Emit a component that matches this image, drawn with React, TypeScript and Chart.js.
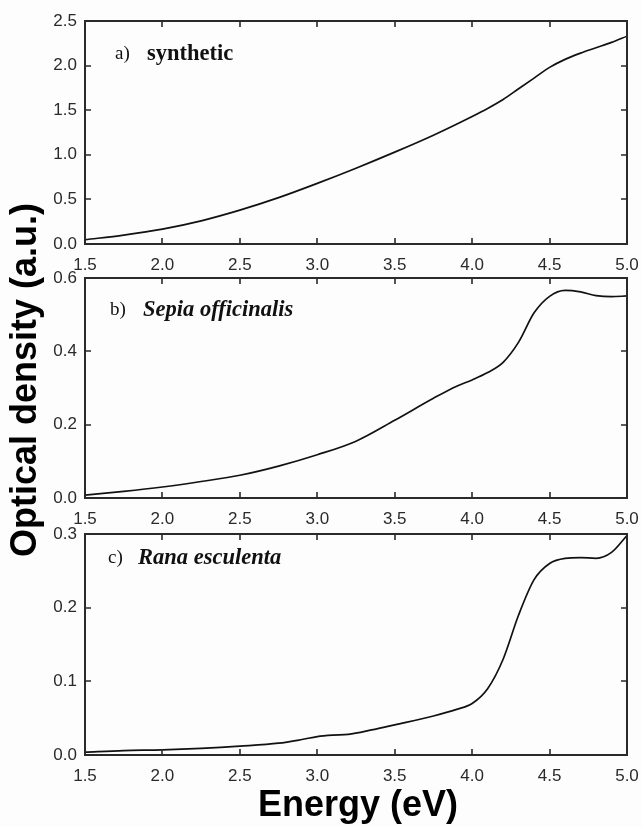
import React, { useEffect, useRef } from 'react';
import { Chart, registerables } from 'chart.js';

Chart.register(...registerables);

// ---------- data ----------
const energyTicks = [1.5, 2.0, 2.5, 3.0, 3.5, 4.0, 4.5, 5.0];
const energyTickLabels = ['1.5', '2.0', '2.5', '3.0', '3.5', '4.0', '4.5', '5.0'];

const energyA = [1.5, 1.75, 2.0, 2.25, 2.5, 2.75, 3.0, 3.25, 3.5, 3.75, 4.0, 4.1, 4.2, 4.3, 4.4, 4.5, 4.6, 4.7, 4.8, 4.9, 5.0];
const densityA = [0.048, 0.1, 0.167, 0.26, 0.38, 0.52, 0.68, 0.85, 1.03, 1.22, 1.43, 1.52, 1.62, 1.74, 1.86, 1.98, 2.07, 2.14, 2.2, 2.26, 2.33];
const yTicksA = [0, 0.5, 1.0, 1.5, 2.0, 2.5];
const yTickLabelsA = ['0.0', '0.5', '1.0', '1.5', '2.0', '2.5'];

const energyB = [1.5, 1.75, 2.0, 2.25, 2.5, 2.75, 3.0, 3.25, 3.5, 3.75, 3.9, 4.0, 4.1, 4.2, 4.3, 4.4, 4.5, 4.6, 4.7, 4.8, 4.9, 5.0];
const densityB = [0.008, 0.018, 0.03, 0.045, 0.062, 0.087, 0.118, 0.155, 0.212, 0.272, 0.305, 0.322, 0.342, 0.37, 0.425, 0.505, 0.55, 0.566, 0.562, 0.552, 0.549, 0.551];
const yTicksB = [0, 0.2, 0.4, 0.6];
const yTickLabelsB = ['0.0', '0.2', '0.4', '0.6'];

const energyC = [1.5, 1.75, 2.0, 2.25, 2.5, 2.75, 2.9, 3.0, 3.1, 3.2, 3.35, 3.5, 3.75, 3.9, 4.0, 4.1, 4.2, 4.3, 4.4, 4.5, 4.6, 4.7, 4.8, 4.9, 5.0];
const densityC = [0.004, 0.006, 0.007, 0.009, 0.012, 0.016, 0.021, 0.025, 0.027, 0.028, 0.034, 0.041, 0.053, 0.062, 0.07, 0.09, 0.13, 0.19, 0.238, 0.26, 0.267, 0.268, 0.267, 0.275, 0.298];
const yTicksC = [0, 0.1, 0.2, 0.3];
const yTickLabelsC = ['0.0', '0.1', '0.2', '0.3'];

const panelLetters = ['a)', 'b)', 'c)'];
const panelNames = ['synthetic', 'Sepia officinalis', 'Rana esculenta'];
const xTitle = 'Energy (eV)';
const yTitle = 'Optical density (a.u.)';

// ---------- layout ----------
const W = 642;
const H = 827;
const PLOT_LEFT = 85;
const PLOT_RIGHT = 627;
const XAXIS_H = 30;
const SANS = "'Liberation Sans', Arial, sans-serif";
const SERIF = "'Liberation Serif', 'Times New Roman', serif";

type Panel = {
  xs: number[];
  ys: number[];
  yTicks: number[];
  yLabels: string[];
  top: number;
  bottom: number;
  letter: string;
  name: string;
  italic: boolean;
  labelY: number;
  letterX: number;
  nameX: number;
  titles: boolean;
};

const panels: Panel[] = [
  { xs: energyA, ys: densityA, yTicks: yTicksA, yLabels: yTickLabelsA, top: 21, bottom: 244, letter: panelLetters[0], name: panelNames[0], italic: false, labelY: 54, letterX: 115, nameX: 147, titles: false },
  { xs: energyB, ys: densityB, yTicks: yTicksB, yLabels: yTickLabelsB, top: 278, bottom: 498, letter: panelLetters[1], name: panelNames[1], italic: true, labelY: 310, letterX: 110, nameX: 143, titles: false },
  { xs: energyC, ys: densityC, yTicks: yTicksC, yLabels: yTickLabelsC, top: 534, bottom: 755, letter: panelLetters[2], name: panelNames[2], italic: true, labelY: 558, letterX: 108, nameX: 138, titles: true },
];

function makePlugin(p: Panel) {
  return {
    id: 'frameAndText',
    afterDatasetsDraw(chart: any) {
      const { ctx, chartArea, scales } = chart;
      const { left, right, top, bottom } = chartArea;
      const x = scales.x;
      const y = scales.y;
      ctx.save();
      ctx.strokeStyle = '#2a2a2a';
      ctx.lineWidth = 2;
      ctx.strokeRect(left, top, right - left, bottom - top);
      ctx.lineWidth = 1.6;
      const TL = 6;
      ctx.beginPath();
      x.ticks.forEach((t: any) => {
        const px = Math.round(x.getPixelForValue(t.value));
        ctx.moveTo(px, bottom);
        ctx.lineTo(px, bottom - TL);
        ctx.moveTo(px, top);
        ctx.lineTo(px, top + TL);
      });
      y.ticks.forEach((t: any) => {
        const py = Math.round(y.getPixelForValue(t.value));
        ctx.moveTo(left, py);
        ctx.lineTo(left + TL, py);
        ctx.moveTo(right, py);
        ctx.lineTo(right - TL, py);
      });
      ctx.stroke();

      // panel annotation
      ctx.fillStyle = '#111';
      ctx.textBaseline = 'middle';
      ctx.textAlign = 'left';
      ctx.font = `19px ${SERIF}`;
      ctx.fillText(p.letter, p.letterX, p.labelY);
      ctx.font = `${p.italic ? 'italic ' : ''}bold 22.5px ${SERIF}`;
      ctx.fillText(p.name, p.nameX, p.labelY);

      if (p.titles) {
        ctx.fillStyle = '#000';
        ctx.font = `bold 36px ${SANS}`;
        ctx.textAlign = 'center';
        ctx.textBaseline = 'middle';
        ctx.fillText(xTitle, 358, 806);
        ctx.save();
        ctx.translate(26, 380);
        ctx.rotate(-Math.PI / 2);
        ctx.fillText(yTitle, 0, 0);
        ctx.restore();
      }
      ctx.restore();
    },
  };
}

function PanelChart({ p }: { p: Panel }) {
  const ref = useRef<HTMLCanvasElement | null>(null);
  useEffect(() => {
    if (!ref.current) return;
    const data = p.xs.map((xv, i) => ({ x: xv, y: p.ys[i] }));
    const yMax = p.yTicks[p.yTicks.length - 1];
    const tickFont = { family: SANS, size: 17 };
    const chart = new Chart(ref.current, {
      type: 'line',
      data: {
        datasets: [
          {
            data,
            borderColor: '#111',
            borderWidth: 1.7,
            pointRadius: 0,
            fill: false,
            cubicInterpolationMode: 'monotone',
          },
        ],
      },
      options: {
        responsive: false,
        animation: false,
        events: [],
        layout: {
          padding: { left: 0, right: W - PLOT_RIGHT, top: p.top, bottom: H - p.bottom - XAXIS_H },
        },
        plugins: { legend: { display: false }, tooltip: { enabled: false }, title: { display: false } },
        scales: {
          x: {
            type: 'linear',
            min: energyTicks[0],
            max: energyTicks[energyTicks.length - 1],
            afterBuildTicks: (s: any) => {
              s.ticks = energyTicks.map((v) => ({ value: v }));
            },
            afterFit: (s: any) => {
              s.height = XAXIS_H;
              s.paddingLeft = 0;
              s.paddingRight = 0;
            },
            ticks: {
              autoSkip: false,
              maxRotation: 0,
              padding: 11,
              color: '#2a2a2a',
              font: tickFont,
              callback: (_v: any, i: number) => energyTickLabels[i],
            },
            grid: { display: false, drawTicks: false },
            border: { display: false },
          },
          y: {
            type: 'linear',
            min: 0,
            max: yMax,
            afterBuildTicks: (s: any) => {
              s.ticks = p.yTicks.map((v) => ({ value: v }));
            },
            afterFit: (s: any) => {
              s.width = PLOT_LEFT;
              s.paddingTop = 0;
              s.paddingBottom = 0;
            },
            ticks: {
              padding: 8,
              color: '#2a2a2a',
              font: tickFont,
              callback: (_v: any, i: number) => p.yLabels[i],
            },
            grid: { display: false, drawTicks: false },
            border: { display: false },
          },
        },
      },
      plugins: [makePlugin(p)],
    } as any);
    return () => chart.destroy();
  }, [p]);
  return (
    <canvas
      ref={ref}
      width={W}
      height={H}
      style={{ position: 'absolute', left: 0, top: 0, width: W, height: H }}
    />
  );
}

export default function App() {
  return (
    <div style={{ position: 'absolute', left: 0, top: 0, width: W, height: H, background: '#fdfdfd' }}>
      {panels.map((p, i) => (
        <PanelChart key={i} p={p} />
      ))}
    </div>
  );
}
